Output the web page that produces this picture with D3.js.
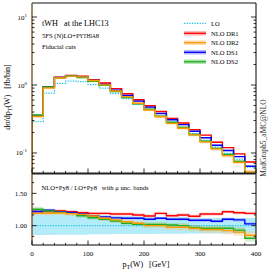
<!DOCTYPE html>
<html><head><meta charset="utf-8">
<script src="https://cdn.jsdelivr.net/npm/d3@7"></script>
<style>body{margin:0;background:#fff}svg{display:block}text{font-family:"Liberation Serif","DejaVu Serif",serif;white-space:pre}</style>
</head><body><svg id="c" width="270" height="270"></svg>
<script>
// ---- data (20 GeV bins, 0..400 GeV) ----
const binEdges = [0,20,40,60,80,100,120,140,160,180,200,220,240,260,280,300,320,340,360,380,400];
const seriesNames = ["LO","NLO DR1","NLO DR2","NLO DS1","NLO DS2"];
const LO   = [0.29,0.76,1.06,1.14,1.12,1.01,0.90,0.75,0.63,0.52,0.43,0.342,0.28,0.237,0.193,0.155,0.122,0.099,0.081,0.062];
const DR1  = [0.354,0.927,1.30,1.386,1.344,1.20,1.071,0.885,0.743,0.606,0.495,0.407,0.323,0.276,0.221,0.183,0.144,0.120,0.0972,0.0738];
const DR2  = [0.345,0.904,1.268,1.351,1.316,1.162,1.004,0.818,0.668,0.539,0.43,0.342,0.273,0.231,0.185,0.146,0.115,0.0914,0.0729,0.0527];
const DS1  = [0.354,0.942,1.289,1.374,1.322,1.166,1.022,0.84,0.702,0.579,0.473,0.381,0.308,0.261,0.209,0.168,0.130,0.109,0.0883,0.0637];
const DS2  = [0.363,0.933,1.283,1.357,1.292,1.134,0.99,0.804,0.653,0.530,0.439,0.349,0.283,0.237,0.187,0.149,0.117,0.095,0.0753,0.0499];
// ratios to LO
const rDR1 = [1.22,1.22,1.227,1.216,1.20,1.19,1.19,1.18,1.18,1.165,1.15,1.19,1.154,1.165,1.145,1.18,1.18,1.216,1.20,1.19];
const rDR2 = [1.19,1.19,1.196,1.185,1.175,1.15,1.115,1.09,1.06,1.037,1.0,1.0,0.975,0.975,0.96,0.94,0.94,0.923,0.90,0.85];
const rDS1 = [1.22,1.24,1.216,1.205,1.18,1.154,1.135,1.12,1.114,1.114,1.10,1.114,1.10,1.10,1.083,1.083,1.068,1.10,1.09,1.027];
const rDS2 = [1.253,1.227,1.21,1.19,1.154,1.123,1.10,1.072,1.037,1.02,1.02,1.02,1.01,1.0,0.97,0.96,0.96,0.96,0.93,0.805];
// scale-uncertainty band half widths (ratio units)
const bwDR1 = [0.025,0.025,0.025,0.025,0.025,0.025,0.025,0.025,0.025,0.025,0.025,0.025,0.025,0.025,0.025,0.025,0.025,0.025,0.025,0.025];
const bwDR2 = [0.03,0.03,0.03,0.03,0.03,0.03,0.035,0.035,0.04,0.04,0.04,0.045,0.045,0.05,0.05,0.05,0.055,0.055,0.06,0.06];
const bwDS1 = [0.02,0.02,0.02,0.02,0.02,0.02,0.02,0.02,0.02,0.02,0.02,0.02,0.02,0.025,0.025,0.025,0.025,0.025,0.025,0.025];
const bwDS2 = [0.04,0.03,0.03,0.03,0.03,0.03,0.03,0.03,0.03,0.03,0.035,0.035,0.035,0.04,0.04,0.04,0.045,0.045,0.05,0.05];
const loBandUp = [1.18,1.18,1.18,1.17,1.17,1.16,1.16,1.15,1.15,1.14,1.14,1.13,1.13,1.13,1.12,1.12,1.12,1.12,1.12,1.12];
const loBandDn = [0.855,0.855,0.86,0.86,0.86,0.865,0.865,0.87,0.87,0.87,0.87,0.875,0.875,0.875,0.88,0.88,0.88,0.88,0.88,0.88];
const xTicks = [0,100,200,300,400];
const ratioTicks = [1.00,1.50];
const legendLabels = ["LO","NLO DR1","NLO DR2","NLO DS1","NLO DS2"];

const svg = d3.select("#c");
const X0=32, X1=256, MT=3, MB=173, RT=174, RB=245;
const x = d3.scaleLinear().domain([0,400]).range([X0,X1]);
const y = d3.scaleLog().domain([0.0508,16.07]).range([MB,MT]);
const yr = d3.scaleLinear().domain([0.70,1.80]).range([RB,RT]);

const nlo = [
  {name:"NLO DR1", v:DR1, r:rDR1, bw:bwDR1, col:"#ff0000", band:"#ff8080"},
  {name:"NLO DR2", v:DR2, r:rDR2, bw:bwDR2, col:"#ff9900", band:"#ffc070"},
  {name:"NLO DS1", v:DS1, r:rDS1, bw:bwDS1, col:"#0000ff", band:"#8080ff"},
  {name:"NLO DS2", v:DS2, r:rDS2, bw:bwDS2, col:"#1fae1f", band:"#70d070"}
];
const drawOrder = [0,2,3,1];

function stepPts(vals, startLow){
  const p=[];
  if(startLow!==undefined) p.push([0,startLow]);
  vals.forEach((v,i)=>p.push([binEdges[i],v]));
  p.push([400,vals[vals.length-1]]);
  return p;
}
const gMain = svg.append("g");
const clipM = svg.append("clipPath").attr("id","cm").append("rect").attr("x",X0).attr("y",MT).attr("width",X1-X0).attr("height",MB-MT);
const clipR = svg.append("clipPath").attr("id","cr").append("rect").attr("x",X0).attr("y",RT).attr("width",X1-X0).attr("height",RB-RT);
const pm = gMain.append("g").attr("clip-path","url(#cm)");
const pr = svg.append("g").attr("clip-path","url(#cr)");

const lineM = d3.line().x(d=>x(d[0])).y(d=>y(d[1])).curve(d3.curveStepAfter);
const lineR = d3.line().x(d=>x(d[0])).y(d=>yr(d[1])).curve(d3.curveStepAfter);
function areaData(lo,hi){ const a=lo.map((l,i)=>({x:binEdges[i],lo:l,hi:hi[i]})); a.push({x:400,lo:lo[lo.length-1],hi:hi[hi.length-1]}); return a; }
const areaM = d3.area().x(d=>x(d.x)).y0(d=>y(d.lo)).y1(d=>y(d.hi)).curve(d3.curveStepAfter);
const areaR = d3.area().x(d=>x(d.x)).y0(d=>yr(d.lo)).y1(d=>yr(d.hi)).curve(d3.curveStepAfter);

// main panel bands
drawOrder.forEach(k=>{const s=nlo[k];
  const lo=s.v.map((v,i)=>v*(s.r[i]-s.bw[i])/s.r[i]), hi=s.v.map((v,i)=>v*(s.r[i]+s.bw[i])/s.r[i]);
  pm.append("path").attr("d",areaM(areaData(lo,hi))).attr("fill",s.band).attr("opacity",0.45);
});
// LO dotted
pm.append("path").attr("d",lineM(stepPts(LO,0.0508))).attr("fill","none").attr("stroke","#1ec3e8").attr("stroke-width",1.3).attr("stroke-dasharray","1.3,1.3");
drawOrder.forEach(k=>{const s=nlo[k];
  pm.append("path").attr("d",lineM(stepPts(s.v,0.0508))).attr("fill","none").attr("stroke",s.col).attr("stroke-width",1.4);
});

// ratio panel
pr.append("path").attr("d",areaR(areaData(loBandDn,loBandUp))).attr("fill","#b4ebf8");
drawOrder.forEach(k=>{const s=nlo[k];
  const lo=s.r.map((r,i)=>r-s.bw[i]), hi=s.r.map((r,i)=>r+s.bw[i]);
  pr.append("path").attr("d",areaR(areaData(lo,hi))).attr("fill",s.band).attr("opacity",0.35);
});
pr.append("line").attr("x1",X0).attr("x2",X1).attr("y1",yr(1)).attr("y2",yr(1)).attr("stroke","#1ec3e8").attr("stroke-width",1.3).attr("stroke-dasharray","1.3,1.3");
drawOrder.forEach(k=>{const s=nlo[k];
  pr.append("path").attr("d",lineR(stepPts(s.r))).attr("fill","none").attr("stroke",s.col).attr("stroke-width",1.4);
});

// frames
const fr = svg.append("g");
fr.append("line").attr("x1",X0).attr("x2",X1).attr("y1",MT).attr("y2",MT).attr("stroke","#888").attr("stroke-width",2);
fr.append("line").attr("x1",X1).attr("x2",X1).attr("y1",MT).attr("y2",RB).attr("stroke","#000").attr("stroke-width",1);
fr.append("line").attr("x1",X0).attr("x2",X0).attr("y1",MT).attr("y2",RB).attr("stroke","#6b4a1e").attr("stroke-width",1.3);
fr.append("line").attr("x1",X0).attr("x2",X1).attr("y1",MB+0.5).attr("y2",MB+0.5).attr("stroke","#222").attr("stroke-width",2.2);
fr.append("line").attr("x1",X0).attr("x2",X1).attr("y1",RB).attr("y2",RB).attr("stroke","#000").attr("stroke-width",1);

// log ticks main panel
const decades=[-2,-1,0,1];
decades.forEach(d=>{for(let m=1;m<10;m++){const v=m*Math.pow(10,d); if(v<0.0508||v>16.07) continue;
  const yy=y(v), L=m===1?5:2.5;
  fr.append("line").attr("x1",X0).attr("x2",X0+L).attr("y1",yy).attr("y2",yy).attr("stroke","#000").attr("stroke-width",0.8);
  fr.append("line").attr("x1",X1).attr("x2",X1-L).attr("y1",yy).attr("y2",yy).attr("stroke","#000").attr("stroke-width",0.8);
}});
[-1,0,1].forEach(d=>{
  const t=fr.append("text").attr("x",27).attr("y",y(Math.pow(10,d))+2.5).attr("text-anchor","end").attr("font-size",7);
  t.append("tspan").text("10");
  t.append("tspan").attr("dy",-3).attr("font-size",5).text(String(d));
});
// x ticks (both panels)
for(let v=0;v<=400;v+=20){const xx=x(v), L=v%100===0?4.5:2.2;
  [MB,RB].forEach(b=>fr.append("line").attr("x1",xx).attr("x2",xx).attr("y1",b).attr("y2",b-L).attr("stroke","#000").attr("stroke-width",0.8));
}
xTicks.forEach(v=>fr.append("text").attr("x",x(v)).attr("y",256).attr("text-anchor","middle").attr("font-size",7).text(v));
// ratio ticks
for(let k=-2;k<=4;k++){const v=1+k/6; if(v<0.7||v>1.8) continue; const yy=yr(v), L=(k%3===0)?4.5:2.2;
  fr.append("line").attr("x1",X0).attr("x2",X0+L).attr("y1",yy).attr("y2",yy).attr("stroke","#000").attr("stroke-width",0.8);
  fr.append("line").attr("x1",X1).attr("x2",X1-L).attr("y1",yy).attr("y2",yy).attr("stroke","#000").attr("stroke-width",0.8);
}
ratioTicks.forEach(v=>fr.append("text").attr("x",27).attr("y",yr(v)+2.5).attr("text-anchor","end").attr("font-size",7).text(v.toFixed(2)));

// texts
const t1=svg.append("text").attr("x",42).attr("y",26).attr("font-size",8.2).text("tWH   at the LHC13");
const t2=svg.append("text").attr("x",42).attr("y",38).attr("font-size",6.6);
t2.append("tspan").text("5FS (N)LO+P"); t2.append("tspan").attr("font-size",5.2).text("YTHIA"); t2.append("tspan").text("8");
svg.append("text").attr("x",42).attr("y",49).attr("font-size",6.6).text("Fiducial cuts");
svg.append("text").attr("x",41.5).attr("y",189.5).attr("font-size",6.6).text("NLO+Py8 / LO+Py8   with μ unc. bands");
const yl=svg.append("text").attr("transform","translate(10,97) rotate(-90)").attr("text-anchor","middle").attr("font-size",8);
yl.append("tspan").text("dσ/dp"); yl.append("tspan").attr("font-size",6).attr("dy",2).text("T"); yl.append("tspan").attr("dy",-2).text("(W)   [fb/bin]");
const xl=svg.append("text").attr("x",146).attr("y",267).attr("text-anchor","middle").attr("font-size",8);
xl.append("tspan").text("p"); xl.append("tspan").attr("font-size",6).attr("dy",2).text("T"); xl.append("tspan").attr("dy",-2).text("(W)   [GeV]");
svg.append("text").attr("transform","translate(266,138) rotate(-90)").attr("text-anchor","middle").attr("font-size",7.5).attr("fill","#333").text("MadGraph5_aMC@NLO");

// legend
const legY=[23.3,33.3,42.7,52.3,61.7];
const lg=svg.append("g");
legendLabels.forEach((lab,i)=>{
  const yy=legY[i];
  if(i===0){
    lg.append("line").attr("x1",184).attr("x2",206).attr("y1",yy).attr("y2",yy).attr("stroke","#1ec3e8").attr("stroke-width",1.3).attr("stroke-dasharray","1.3,1.3");
  } else {
    const s=nlo[i-1];
    lg.append("rect").attr("x",184).attr("y",yy-2.2).attr("width",22).attr("height",4.4).attr("fill",s.band).attr("opacity",0.6);
    lg.append("line").attr("x1",184).attr("x2",206).attr("y1",yy).attr("y2",yy).attr("stroke",s.col).attr("stroke-width",1.3);
  }
  lg.append("text").attr("x",211).attr("y",yy+2.3).attr("font-size",6.6).text(lab);
});
</script></body></html>
